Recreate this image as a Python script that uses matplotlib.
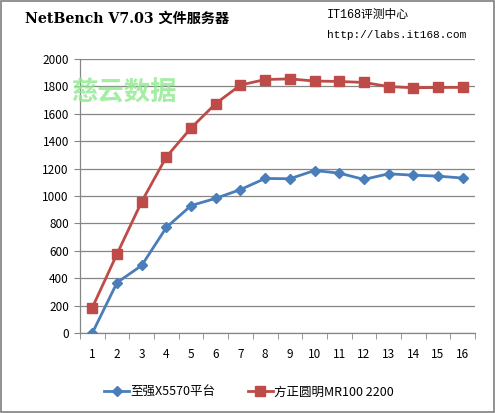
import numpy as np
import matplotlib.pyplot as plt
from matplotlib.patches import Rectangle

CATS = list(range(1, 17))
XEON = [0, 368, 493, 771, 930, 983, 1047, 1128, 1126, 1186, 1167, 1121, 1162, 1152, 1145, 1131]
FOUNDER = [186, 577, 959, 1286, 1497, 1675, 1810, 1850, 1855, 1839, 1836, 1829, 1799, 1790, 1792, 1793]
LABELS = ["至强X5570平台", "方正圆明MR100 2200"]
YTICKS = list(range(0, 2001, 200))

BLUE = "#4A7EBB"
RED = "#BE4B48"
GRID = "#868686"
CJK = ["Noto Sans CJK SC", "DejaVu Sans"]

plt.rcParams["font.family"] = CJK

fig = plt.figure(figsize=(4.95, 4.13), dpi=100)
ax = fig.add_axes([80 / 495, 1 - 333 / 413, 395 / 495, 274 / 413])

x = np.arange(len(CATS)) + 1
ax.plot(x, XEON, color=BLUE, lw=2.0, marker="D", ms=5.5, label=LABELS[0], zorder=4)
ax.plot(x, FOUNDER, color=RED, lw=2.0, marker="s", ms=7, label=LABELS[1], zorder=4)

ax.set_xlim(0.5, len(CATS) + 0.5)
ax.set_ylim(0, 2000)
ax.set_yticks(YTICKS)
ax.set_xticks(x)
ax.set_xticklabels([str(c) for c in CATS])
ax.set_xticks(np.arange(0.5, len(CATS) + 1), minor=True)
ax.tick_params(axis="x", which="major", length=0, pad=11, labelsize=8.5)
ax.tick_params(axis="x", which="minor", length=4, color=GRID, direction="out")
ax.tick_params(axis="y", length=4, color=GRID, pad=4, labelsize=8.5)
ax.yaxis.grid(True, color=GRID, lw=0.9)
ax.set_axisbelow(True)
for side in ("top", "right"):
    ax.spines[side].set_visible(False)
for side in ("left", "bottom"):
    ax.spines[side].set_color(GRID)
    ax.spines[side].set_linewidth(0.9)

fig.text(25 / 495, 1 - 19 / 413, "NetBench V7.03 文件服务器", fontsize=10.2, fontweight="bold",
         family=["DejaVu Serif", "Noto Sans CJK SC"], va="center", ha="left")
fig.text(327 / 495, 1 - 15 / 413, "IT168评测中心", fontsize=8.5,
         family=["Liberation Mono", "Noto Sans CJK SC"], va="center", ha="left")
fig.text(327 / 495, 1 - 35 / 413, "http://labs.it168.com", fontsize=8,
         family=["Liberation Mono"], va="center", ha="left")
fig.text(124 / 495, 1 - 93 / 413, "慈云数据", fontsize=19, fontweight="bold",
         color="#8EEA8E", alpha=0.8, va="center", ha="center", zorder=10)

fig.legend(loc="center", bbox_to_anchor=(249 / 495, 1 - 392 / 413), ncol=2,
           frameon=False, fontsize=9, handlelength=2.0, columnspacing=2.6,
           handletextpad=0.1)

fig.add_artist(Rectangle((0.002, 0.003), 0.996, 0.995, transform=fig.transFigure,
                         fill=False, edgecolor="#7F7F7F", lw=1.2))

fig.savefig("out.png", dpi=100)
